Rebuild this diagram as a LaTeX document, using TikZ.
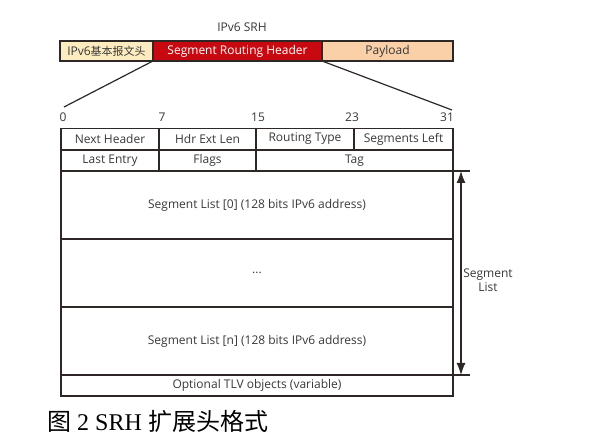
\documentclass[tikz,border=0pt]{standalone}
\usepackage{fontspec}
\setmainfont{Open Sans}
\newfontfamily\cjk{Noto Sans CJK SC}
\newfontfamily\capserif{Liberation Serif}
\usetikzlibrary{arrows.meta}
\definecolor{basefill}{RGB}{252,236,192}
\definecolor{srhfill}{RGB}{200,10,16}
\definecolor{payfill}{RGB}{249,208,168}
\definecolor{edge}{RGB}{45,40,38}
\begin{document}
\begin{tikzpicture}[x=1pt,y=-1pt,
  every node/.style={inner sep=0pt, outer sep=0pt},
  txt/.style={font=\fontsize{12}{14}\selectfont, text=black!78},
  bar/.style={draw=edge, line width=1.3pt, minimum height=20pt, txt},
  fld/.style={draw=edge, line width=1.2pt, txt},
  line/.style={draw=edge, line width=1.2pt}]
\useasboundingbox (0,0) rectangle (600,446);
% top bar
\node[txt] (title) at (242,27) {IPv6 SRH};
\node[bar, fill=basefill, minimum width=93pt] (base) at (106.5,51) {IPv6{\cjk\fontsize{11}{13}\selectfont 基本报文头}};
\node[bar, fill=srhfill, minimum width=169pt, text=white] (srh) at (237.5,51) {Segment Routing Header};
\node[bar, fill=payfill, minimum width=131pt] (pay) at (387.5,51) {Payload};
% bit labels
\node[txt] (b0) at (63,117) {0};
\node[txt] (b7) at (162,117) {7};
\node[txt] (b15) at (258,117) {15};
\node[txt] (b23) at (352,117) {23};
\node[txt] (b31) at (447,117) {31};
\coordinate (z0) at (64,107);
\coordinate (z31) at (452,110);
\draw[line] (srh.south west) -- (z0);
\draw[line] (srh.south east) -- (z31);
% row 1
\node[fld, minimum width=98pt, minimum height=21.5pt] (nh) at (110,139) {Next Header};
\node[fld, minimum width=97pt, minimum height=21.5pt] (hel) at (207.5,139) {Hdr Ext Len};
\node[fld, minimum width=98pt, minimum height=21.5pt] (rt) at (305,139) {Routing Type};
\node[fld, minimum width=99pt, minimum height=21.5pt] (sl) at (403.5,139) {Segments Left};
% row 2
\node[fld, minimum width=98pt, minimum height=21pt] (le) at (110,160.5) {Last Entry};
\node[fld, minimum width=97pt, minimum height=21pt] (fl) at (207.5,160.5) {Flags};
\node[fld, minimum width=197pt, minimum height=21pt] (tag) at (354.5,160.5) {Tag};
% segment list
\node[fld, minimum width=392pt, minimum height=68pt] (s0) at (257,205) {Segment List [0] (128 bits IPv6 address)};
\node[fld, minimum width=392pt, minimum height=68pt] (dots) at (257,273) {...};
\node[fld, minimum width=392pt, minimum height=68pt] (sn) at (257,341) {Segment List [n] (128 bits IPv6 address)};
\node[fld, minimum width=392pt, minimum height=21pt] (tlv) at (257,385.5) {Optional TLV objects (variable)};
% segment list dimension
\coordinate (e1) at (470,171);
\coordinate (e2) at (470,375);
\coordinate (a1) at (461,171);
\coordinate (a2) at (461,375);
\draw[line] (s0.north east) -- (e1);
\draw[line] (sn.south east) -- (e2);
\draw[line, {Latex[length=12pt,width=9pt]}-{Latex[length=12pt,width=9pt]}] (a1) -- (a2);
\node[txt, align=center] (sll) at (488,280) {Segment\\List};
% caption
\node[anchor=west, font=\fontsize{24}{26}\selectfont] (cap) at (47,421) {{\cjk 图} {\capserif 2 SRH} {\cjk 扩展头格式}};
\end{tikzpicture}
\end{document}
